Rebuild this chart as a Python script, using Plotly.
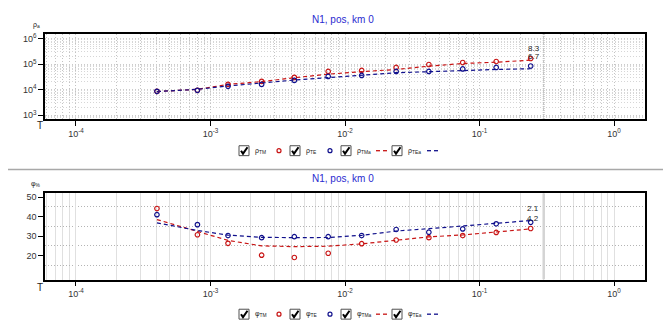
import math
import plotly.graph_objects as go

W, H = 671, 327

# ---------------- data ----------------
periods = [0.0004, 0.0008, 0.00135, 0.0024, 0.0042, 0.0075, 0.0133, 0.024, 0.042, 0.075, 0.133, 0.24]
rho_tm = [8600, 9400, 16100, 21100, 30300, 51800, 56600, 74100, 97000, 116000, 127000, 166000]
rho_te = [8600, 9400, 13500, 16100, 23100, 33000, 36100, 51800, 51800, 64900, 74100, 84700]
rho_tm_a = [8400, 10300, 16100, 20600, 29500, 40300, 50500, 61900, 83300, 106000, 119000, 143000]
rho_te_a = [8400, 10300, 13900, 18800, 23800, 29500, 36200, 46100, 50500, 56600, 61900, 66100]
phi_tm = [44.2, 30.7, 26.3, 20.2, 19.0, 21.2, 26.1, 28.0, 29.2, 30.3, 31.9, 33.9]
phi_te = [41.0, 35.9, 30.3, 29.2, 29.7, 29.7, 30.3, 33.4, 32.0, 33.7, 36.3, 37.1]
phi_tm_a = [38.5, 32.3, 27.8, 25.0, 24.6, 24.8, 26.0, 27.9, 29.6, 30.6, 32.0, 33.7]
phi_te_a = [36.8, 32.9, 30.5, 29.4, 29.2, 29.3, 30.4, 32.6, 33.8, 35.2, 36.5, 38.0]

x_tickvals = [1e-4, 1e-3, 1e-2, 1e-1, 1]
x_ticktext = ["10<sup>-4</sup>", "10<sup>-3</sup>", "10<sup>-2</sup>", "10<sup>-1</sup>", "10<sup>0</sup>"]
rho_tickvals = [1e3, 1e4, 1e5, 1e6]
rho_ticktext = ["10<sup>3</sup>", "10<sup>4</sup>", "10<sup>5</sup>", "10<sup>6</sup>"]
phi_tickvals = [20, 30, 40, 50]
phi_minor = [15, 25, 35, 45]
end_labels_rho = ["8.3", "6.7"]
end_labels_phi = ["2.1", "4.2"]
title_text = "N1, pos, km 0"

RED = "#c81414"
BLUE = "#10108c"
FONT = "Liberation Sans"


def px(x):
    return x / W


def py(y):
    return 1 - y / H


x_minor = [k * 10 ** e for e in range(-5, 1) for k in range(2, 10)]
rho_minor = [k * 10 ** e for e in range(2, 7) for k in range(2, 10)]

fig = go.Figure()

# thicker grey line at T = 0.3 in both panels (background)
fig.add_trace(go.Scatter(x=[0.3, 0.3], y=[10 ** 2.85, 10 ** 6.19], mode="lines", xaxis="x", yaxis="y",
                         line=dict(color="#c4c4c4", width=2, dash="1px,1px"), hoverinfo="skip"))
fig.add_trace(go.Scatter(x=[0.3, 0.3], y=[7.7, 52], mode="lines", xaxis="x2", yaxis="y2",
                         line=dict(color="#d4d4d4", width=2.5), hoverinfo="skip"))


def add_series(xa, ya, pm, pe, am, ae):
    fig.add_trace(go.Scatter(x=periods, y=am, mode="lines", xaxis=xa, yaxis=ya,
                             line=dict(color=RED, width=1.2, dash="4px,3px"), hoverinfo="skip"))
    fig.add_trace(go.Scatter(x=periods, y=ae, mode="lines", xaxis=xa, yaxis=ya,
                             line=dict(color=BLUE, width=1.2, dash="4px,3px"), hoverinfo="skip"))
    fig.add_trace(go.Scatter(x=periods, y=pm, mode="markers", xaxis=xa, yaxis=ya,
                             marker=dict(symbol="circle-open", size=4.5, color=RED, line=dict(width=1.2))))
    fig.add_trace(go.Scatter(x=periods, y=pe, mode="markers", xaxis=xa, yaxis=ya,
                             marker=dict(symbol="circle-open", size=4.5, color=BLUE, line=dict(width=1.2))))


add_series("x", "y", rho_tm, rho_te, rho_tm_a, rho_te_a)
add_series("x2", "y2", phi_tm, phi_te, phi_tm_a, phi_te_a)

xdom = [px(37), px(637)]
common_x = dict(type="log", range=[-4.23, 0.23], domain=xdom, tickvals=x_tickvals, ticktext=x_ticktext,
                ticks="outside", ticklen=5, tickcolor="black", showline=True, linecolor="black",
                linewidth=1.5, mirror=True, zeroline=False,
                tickfont=dict(family=FONT, size=9, color="#333"))

DOT = "1px,2px"
fig.update_layout(
    width=W, height=H, margin=dict(l=0, r=0, t=0, b=0),
    paper_bgcolor="white", plot_bgcolor="white", showlegend=False,
    xaxis=dict(common_x, anchor="y", showgrid=True, gridcolor="#c4c4c4", griddash=DOT, gridwidth=1,
               minor=dict(tickvals=x_minor, showgrid=True, gridcolor="#c4c4c4", griddash=DOT, gridwidth=1)),
    yaxis=dict(type="log", range=[2.85, 6.19], domain=[py(110), py(24)], anchor="x",
               tickvals=rho_tickvals, ticktext=rho_ticktext, ticks="outside", ticklen=5, tickcolor="black",
               showline=True, linecolor="black", linewidth=1.5, mirror=True,
               showgrid=True, gridcolor="#cccccc", griddash=DOT,
               minor=dict(tickvals=rho_minor, showgrid=True, gridcolor="#d6d6d6", griddash=DOT),
               tickfont=dict(family=FONT, size=9, color="#333")),
    xaxis2=dict(common_x, anchor="y2", showgrid=True, gridcolor="#e0e0e0", gridwidth=1,
                minor=dict(tickvals=x_minor, showgrid=True, gridcolor="#e0e0e0", gridwidth=1)),
    yaxis2=dict(range=[7.7, 52], domain=[py(272), py(185)], anchor="x2",
                tickvals=phi_tickvals, ticks="outside", ticklen=5, tickcolor="black",
                showline=True, linecolor="black", linewidth=1.5, mirror=True, zeroline=False,
                showgrid=False,
                minor=dict(tickvals=phi_minor, showgrid=True, gridcolor="#b4b4b4", griddash=DOT),
                tickfont=dict(family=FONT, size=9, color="#333")),
)

shapes = []
ann = []

# background bands and separator
shapes.append(dict(type="rect", xref="paper", yref="paper", x0=px(666), x1=1, y0=0, y1=1,
                   fillcolor="#eef0f6", line=dict(width=0), layer="below"))
shapes.append(dict(type="rect", xref="paper", yref="paper", x0=0, x1=1, y0=0, y1=py(321),
                   fillcolor="#f0f1f7", line=dict(width=0), layer="below"))
shapes.append(dict(type="line", xref="paper", yref="paper", x0=0, x1=px(666), y0=py(161), y1=py(161),
                   line=dict(color="#a8a8a8", width=1.5)))

# titles and axis labels
for ty in (10, 170):
    ann.append(dict(text=title_text, x=px(335), y=py(ty), xref="paper", yref="paper", showarrow=False,
                    font=dict(family=FONT, size=10, color="#2a2ad0"), xanchor="center", yanchor="middle"))
for ty in (117, 280):
    ann.append(dict(text="T", x=px(32), y=py(ty), xref="paper", yref="paper", showarrow=False,
                    font=dict(family=FONT, size=10, color="#222"), xanchor="center", yanchor="middle"))
ann.append(dict(text="ρ<sub>a</sub>", x=px(28), y=py(15), xref="paper", yref="paper", showarrow=False,
                font=dict(family=FONT, size=7, color="#222"), xanchor="center", yanchor="middle"))
ann.append(dict(text="φ<sub>%</sub>", x=px(28), y=py(176), xref="paper", yref="paper", showarrow=False,
                font=dict(family=FONT, size=7, color="#222"), xanchor="center", yanchor="middle"))

# end labels
for (lx, ly), t in zip([(526, 39), (526, 47)], end_labels_rho):
    ann.append(dict(text=t, x=px(lx), y=py(ly), xref="paper", yref="paper", showarrow=False,
                    font=dict(family=FONT, size=8, color="#222"), xanchor="center", yanchor="middle"))
for (lx, ly), t in zip([(525, 200), (525, 210)], end_labels_phi):
    ann.append(dict(text=t, x=px(lx), y=py(ly), xref="paper", yref="paper", showarrow=False,
                    font=dict(family=FONT, size=8, color="#222"), xanchor="center", yanchor="middle"))

# legends
legend_names = {
    142: ["ρ<sub>TM</sub>", "ρ<sub>TE</sub>", "ρ<sub>TMa</sub>", "ρ<sub>TEa</sub>"],
    307: ["φ<sub>TM</sub>", "φ<sub>TE</sub>", "φ<sub>TMa</sub>", "φ<sub>TEa</sub>"],
}
box_x = [231, 282, 333, 384]
for ly, names in legend_names.items():
    for i, (bx, nm) in enumerate(zip(box_x, names)):
        shapes.append(dict(type="rect", xref="paper", yref="paper", x0=px(bx), x1=px(bx + 10),
                           y0=py(ly + 5), y1=py(ly - 5), fillcolor="white",
                           line=dict(color="#505050", width=1)))
        shapes.append(dict(type="path", xref="paper", yref="paper",
                           path=f"M {px(bx+2)},{py(ly)} L {px(bx+4)},{py(ly+3)} L {px(bx+8.5)},{py(ly-3.5)}",
                           line=dict(color="black", width=2)))
        ann.append(dict(text=nm, x=px(bx + 14), y=py(ly), xref="paper", yref="paper", showarrow=False,
                        font=dict(family=FONT, size=7, color="#222"), xanchor="left", yanchor="middle"))
        col = RED if i % 2 == 0 else BLUE
        gx = bx + 40
        if i < 2:
            shapes.append(dict(type="circle", xref="paper", yref="paper", x0=px(gx - 2), x1=px(gx + 2),
                               y0=py(ly + 2), y1=py(ly - 2), line=dict(color=col, width=1.2)))
        else:
            for d0 in (-5, 2):
                shapes.append(dict(type="line", xref="paper", yref="paper", x0=px(gx + d0),
                                   x1=px(gx + d0 + 4), y0=py(ly), y1=py(ly),
                                   line=dict(color=col, width=1.3)))

fig.update_layout(shapes=shapes, annotations=ann)
fig.write_html("out.html")
